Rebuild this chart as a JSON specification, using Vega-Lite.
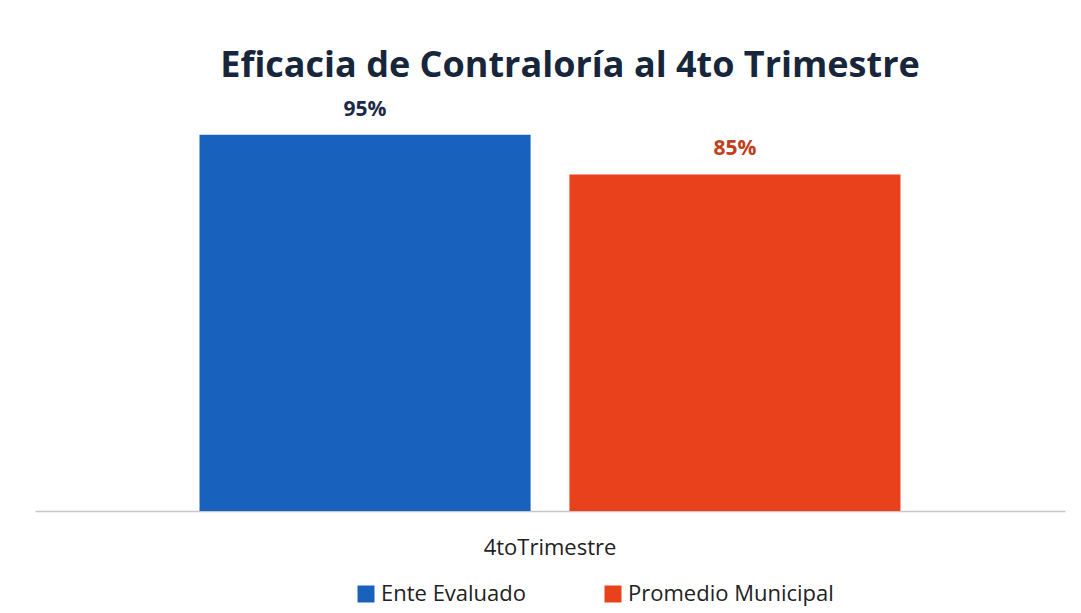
{
  "$schema": "https://vega.github.io/schema/vega-lite/v6.json",
  "autosize": {"type": "none"},
  "width": 1030,
  "height": 396,
  "padding": {"left": 35, "top": 115, "right": 16, "bottom": 102},
  "background": "white",
  "config": {
    "view": {"stroke": null},
    "font": "Open Sans"
  },
  "title": {
    "text": "Eficacia de Contraloría al 4to Trimestre",
    "font": "Open Sans",
    "fontSize": 36,
    "fontWeight": "bold",
    "color": "#17263a",
    "anchor": "middle",
    "frame": "group",
    "offset": 14,
    "dx": 20
  },
  "data": {
    "values": [
      {"periodo": "4toTrimestre", "serie": "Ente Evaluado", "valor": 0.95},
      {"periodo": "4toTrimestre", "serie": "Promedio Municipal", "valor": 0.85}
    ]
  },
  "encoding": {
    "x": {
      "field": "periodo",
      "type": "nominal",
      "scale": {"paddingInner": 0, "paddingOuter": 0.2347},
      "axis": {
        "title": null,
        "labelAngle": 0,
        "labelFontSize": 22,
        "labelColor": "#222222",
        "labelFont": "Open Sans",
        "labelPadding": 26,
        "ticks": false,
        "domainColor": "#c8c8c8",
        "domainWidth": 1.5
      }
    },
    "xOffset": {
      "field": "serie",
      "type": "nominal",
      "scale": {"paddingInner": 0.105, "paddingOuter": 0}
    },
    "y": {
      "field": "valor",
      "type": "quantitative",
      "scale": {"domain": [0, 1]},
      "axis": null
    }
  },
  "layer": [
    {
      "mark": {"type": "bar"},
      "encoding": {
        "color": {
          "field": "serie",
          "type": "nominal",
          "scale": {"domain": ["Ente Evaluado", "Promedio Municipal"], "range": ["#1862be", "#e8411b"]},
          "legend": {
            "title": null,
            "orient": "none",
            "direction": "horizontal",
            "legendX": 320,
            "legendY": 468,
            "symbolType": "square",
            "symbolSize": 289,
            "symbolStrokeWidth": 0,
            "labelFontSize": 22,
            "labelFont": "Open Sans",
            "labelColor": "#222222",
            "labelOffset": 4,
            "labelLimit": 400,
            "columnPadding": 75
          }
        }
      }
    },
    {
      "mark": {"type": "text", "baseline": "middle", "dy": -25, "fontSize": 21, "fontWeight": "bold", "font": "Open Sans"},
      "encoding": {
        "text": {"field": "valor", "type": "quantitative", "format": ".0%"},
        "color": {
          "condition": {"test": "datum.serie === 'Ente Evaluado'", "value": "#1b2a4a"},
          "value": "#c0401c"
        }
      }
    }
  ]
}
